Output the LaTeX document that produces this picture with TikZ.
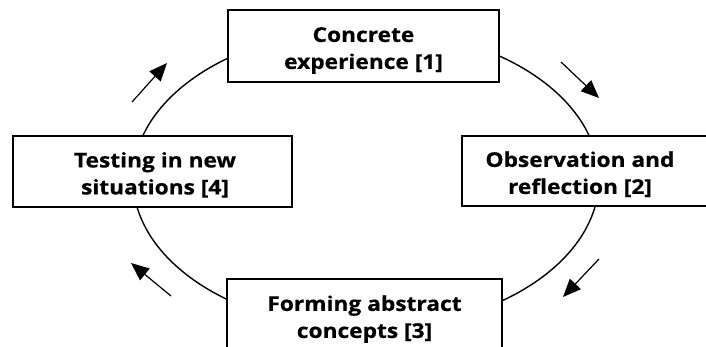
\documentclass[tikz,border=0pt]{standalone}
\usepackage{fontspec}
\setmainfont{Open Sans}[BoldFeatures={FakeStretch=1.12,FakeBold=0.6}]
\usetikzlibrary{arrows.meta}
\newcommand{\btext}[3]{\raisebox{-4pt}[\height][\depth]{\begin{tabular}{@{\hspace{#1}}c@{\hspace{#2}}}#3\end{tabular}}}
\tikzset{
  box/.style={draw=black, line width=1.3pt, fill=white, align=center,
    font=\bfseries\fontsize{20.3}{27}\selectfont, inner sep=0pt},
  cyc/.style={draw=black, line width=1.4pt},
  arr/.style={draw=black, line width=1.2pt, -{Triangle[length=18pt,width=15pt]}}
}
\begin{document}
\begin{tikzpicture}[x=1pt,y=-1pt]
\renewcommand{\arraystretch}{1}
\clip (0,0) rectangle (706,347);
\fill[white] (0,0) rectangle (706,347);
\draw[cyc] (366,179) ellipse [x radius=233pt, y radius=150pt];
\node[box, minimum width=271pt, minimum height=72pt] (c1) at (363.5,46) {\btext{0pt}{0pt}{Concrete\\experience [1]}};
\node[box, minimum width=258pt, minimum height=70pt] (c2) at (591,171) {\btext{0pt}{22pt}{Observation and\\reflection [2]}};
\node[box, minimum width=275pt, minimum height=72pt] (c3) at (364.5,315) {\btext{0pt}{0pt}{Forming abstract\\concepts [3]}};
\node[box, minimum width=279pt, minimum height=71pt] (c4) at (152.5,171.5) {\btext{5pt}{0pt}{Testing in new\\situations [4]}};
\coordinate (a1s) at (132,102); \coordinate (a1e) at (167,63);
\coordinate (a2s) at (561,62);  \coordinate (a2e) at (599,98);
\coordinate (a3s) at (599,259); \coordinate (a3e) at (563,297);
\coordinate (a4s) at (171,296); \coordinate (a4e) at (131,263);
\draw[arr] (a1s) -- (a1e);
\draw[arr] (a2s) -- (a2e);
\draw[arr] (a3s) -- (a3e);
\draw[arr] (a4s) -- (a4e);
\end{tikzpicture}
\end{document}
